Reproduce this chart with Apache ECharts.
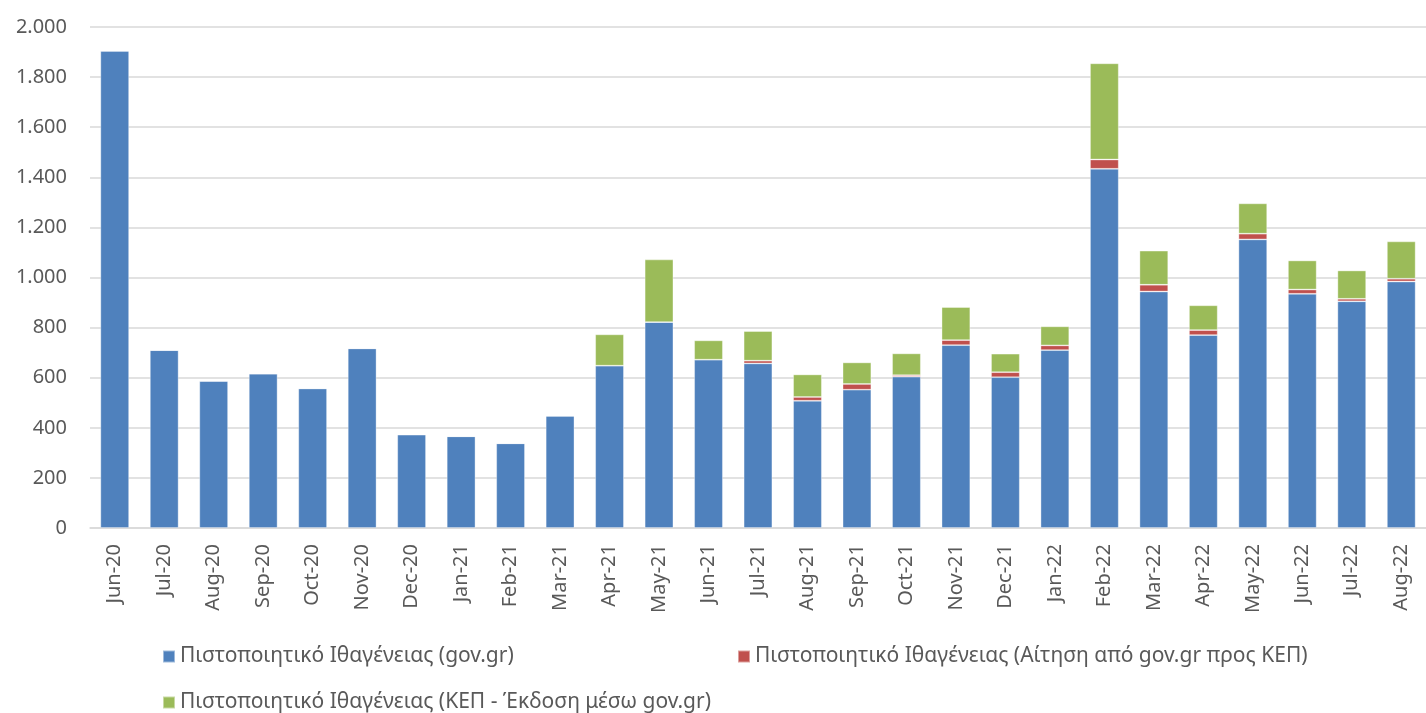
<!DOCTYPE html>
<html>
<head>
<meta charset="utf-8">
<script src="https://cdn.jsdelivr.net/npm/echarts@6/dist/echarts.min.js"></script>
<style>
html,body{margin:0;padding:0;background:#fff;}
#chart{width:1426px;height:713px;}
</style>
</head>
<body>
<div id="chart"></div>
<script>
const categories = ['Jun-20','Jul-20','Aug-20','Sep-20','Oct-20','Nov-20','Dec-20','Jan-21','Feb-21','Mar-21','Apr-21','May-21','Jun-21','Jul-21','Aug-21','Sep-21','Oct-21','Nov-21','Dec-21','Jan-22','Feb-22','Mar-22','Apr-22','May-22','Jun-22','Jul-22','Aug-22'];
const govValues = [1905,710,587,616,557,717,373,366,338,448,648,822,672,657,508,552,604,730,602,710,1434,944,770,1152,935,905,984];
const kepRequestValues = [0,0,0,0,0,0,0,0,0,0,0,0,0,11,15,23,6,20,20,19,37,27,20,23,17,10,11];
const kepIssueValues = [0,0,0,0,0,0,0,0,0,0,125,250,77,118,90,86,87,132,74,76,384,136,99,121,116,113,149];
const seriesNames = ['Πιστοποιητικό Ιθαγένειας (gov.gr)','Πιστοποιητικό Ιθαγένειας (Αίτηση από gov.gr προς ΚΕΠ)','Πιστοποιητικό Ιθαγένειας (ΚΕΠ - Έκδοση μέσω gov.gr)'];
const colors = ['#4f81bd','#c0504d','#9bbb59'];

const txt = {color:'#595959', fontSize:20, fontFamily:"'Noto Sans',sans-serif"};

const chart = echarts.init(document.getElementById('chart'));
function legendAt(name, left, top){
  return {data:[name], left:left, top:top, icon:'rect', itemWidth:12, itemHeight:12, itemGap:8,
    textStyle:Object.assign({}, txt, {fontSize:21}), selectedMode:false, padding:0};
}
const seriesData = [govValues, kepRequestValues, kepIssueValues];
chart.setOption({
  animation:false,
  color:colors,
  grid:{left:90, right:-7, top:27, bottom:185, containLabel:false},
  legend:[legendAt(seriesNames[0],162,646), legendAt(seriesNames[1],737,646), legendAt(seriesNames[2],162,692)],
  xAxis:{type:'category', data:categories,
    axisLine:{lineStyle:{color:'#d9d9d9', width:1.5}},
    axisTick:{show:false},
    axisLabel:Object.assign({}, txt, {rotate:90, margin:16, interval:0})},
  yAxis:{type:'value', min:0, max:2000, interval:200,
    axisLine:{show:false}, axisTick:{show:false},
    splitLine:{lineStyle:{color:'#d9d9d9', width:1.5}},
    axisLabel:Object.assign({}, txt, {margin:23, formatter:v=>v.toString().replace(/\B(?=(\d{3})+(?!\d))/g,'.')})},
  series:seriesData.map((d,i)=>({
    name:seriesNames[i], type:'bar', stack:'total', data:d, barWidth:'58%',
    itemStyle:{color:colors[i], borderColor:'rgba(255,255,255,0.45)', borderWidth:0.8}
  }))
});
</script>
</body>
</html>
